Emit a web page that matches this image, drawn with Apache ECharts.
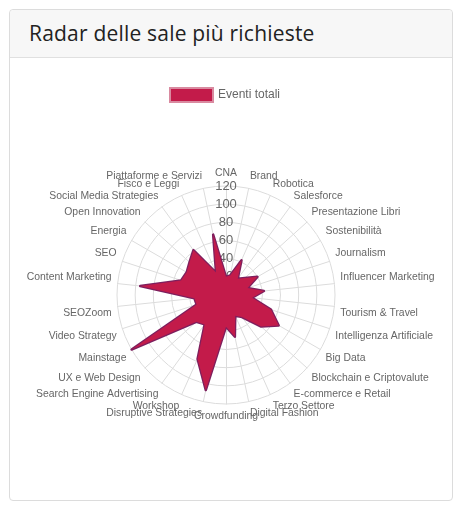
<!DOCTYPE html>
<html>
<head>
<meta charset="utf-8">
<script src="https://cdn.jsdelivr.net/npm/echarts@6/dist/echarts.min.js"></script>
<style>
  html, body { margin: 0; padding: 0; background: #fff; width: 463px; height: 508px; overflow: hidden; }
  .card { position: absolute; left: 9px; top: 9px; width: 442px; height: 490px; border: 1px solid #dcdcdc; border-radius: 4px; background: #fff; }
  .card-header { height: 47px; background: #f7f7f7; border-bottom: 1px solid #e0e0e0; border-radius: 4px 4px 0 0; }
  .card-header h3 { margin: 0; padding: 9px 0 0 19px; font-family: "Open Sans", sans-serif; font-weight: 400; font-size: 21px; color: #222; letter-spacing: 0.2px; white-space: nowrap; }
  #chart { position: absolute; left: 0; top: 0; width: 463px; height: 508px; }
</style>
</head>
<body>
<div class="card"><div class="card-header"><h3>Radar delle sale più richieste</h3></div></div>
<div id="chart"></div>
<script>
// Categories listed clockwise from the top
const categories = [
  "CNA", "Brand", "Robotica", "Salesforce", "Presentazione Libri", "Sostenibilità",
  "Journalism", "Influencer Marketing", "Tourism & Travel", "Intelligenza Artificiale",
  "Big Data", "Blockchain e Criptovalute", "E-commerce e Retail", "Terzo Settore",
  "Digital Fashion", "Crowdfunding", "Disruptive Strategies", "Workshop",
  "Search Engine Advertising", "UX e Web Design", "Mainstage", "Video Strategy",
  "SEOZoom", "Content Marketing", "SEO", "Energia", "Open Innovation",
  "Social Media Strategies", "Fisco e Leggi", "Piattaforme e Servizi"
];
const seriesName = "Eventi totali";
const eventiTotali = [
  20, 22, 42, 22, 28, 40,
  25, 42, 29, 52,
  67, 52, 30, 25,
  47, 35, 107, 77,
  40, 44, 120, 34,
  35, 95, 52, 50, 54,
  61, 27, 68
];
const axisMax = 120;
const axisTicks = [0, 20, 40, 60, 80, 100, 120];

// ECharts radar runs counter-clockwise; reorder so the chart reads clockwise
const n = categories.length;
const order = [0].concat(categories.map((_, i) => i).slice(1).reverse());
// vertical placement of names like the original: upper half sits above its point, lower half below
const nameHalf = {};
categories.forEach((c, i) => {
  const a = i * 360 / n;
  nameHalf[c] = (a === 0 || a === 180) ? 0 : (a > 90 && a < 270 ? 1 : -1);
});
const indicators = order.map((i, k) => {
  const ind = { name: categories[i], min: 0, max: axisMax };
  if (k === 0) {
    ind.axisLabel = {
      show: true, margin: 0, align: 'center', verticalAlign: 'middle',
      color: '#666', fontSize: 13, fontFamily: 'Liberation Sans, Arial, sans-serif',
      showMinLabel: false,
      formatter: v => axisTicks.includes(v) ? String(v) : ''
    };
  }
  return ind;
});
const values = order.map(i => eventiTotali[i]);

const chart = echarts.init(document.getElementById('chart'), null, { renderer: 'canvas' });
chart.setOption({
  animation: false,
  legend: {
    data: [seriesName],
    top: 82, left: 164,
    itemWidth: 43, itemHeight: 14, itemGap: 5,
    textStyle: { color: '#666', fontSize: 12, fontFamily: 'Liberation Sans, Arial, sans-serif' },
    icon: 'rect'
  },
  radar: {
    center: [226, 295],
    radius: 109,
    startAngle: 90,
    splitNumber: axisTicks.length - 1,
    shape: 'circle',
    indicator: indicators,
    axisName: {
      color: '#666', fontSize: 10.4, lineHeight: 12,
      fontFamily: 'Liberation Sans, Arial, sans-serif',
      formatter: (name) => nameHalf[name] < 0 ? name + '\n ' : (nameHalf[name] > 0 ? ' \n' + name : name)
    },
    nameGap: 6,
    axisLine: { lineStyle: { color: '#dcdcdc', width: 1 } },
    splitLine: { lineStyle: { color: '#dcdcdc', width: 1 } },
    splitArea: { show: false },
    axisLabel: { show: false },
    axisTick: { show: false }
  },
  series: [{
    type: 'radar',
    z: 5,
    name: seriesName,
    symbol: 'none',
    lineStyle: { color: '#7d1f5e', width: 2.5 },
    itemStyle: { color: '#c31b4a', borderColor: '#d98aa0', borderWidth: 1 },
    areaStyle: { color: '#c31b4a', opacity: 1 },
    data: [{ value: values, name: seriesName }]
  }]
});
</script>
</body>
</html>
